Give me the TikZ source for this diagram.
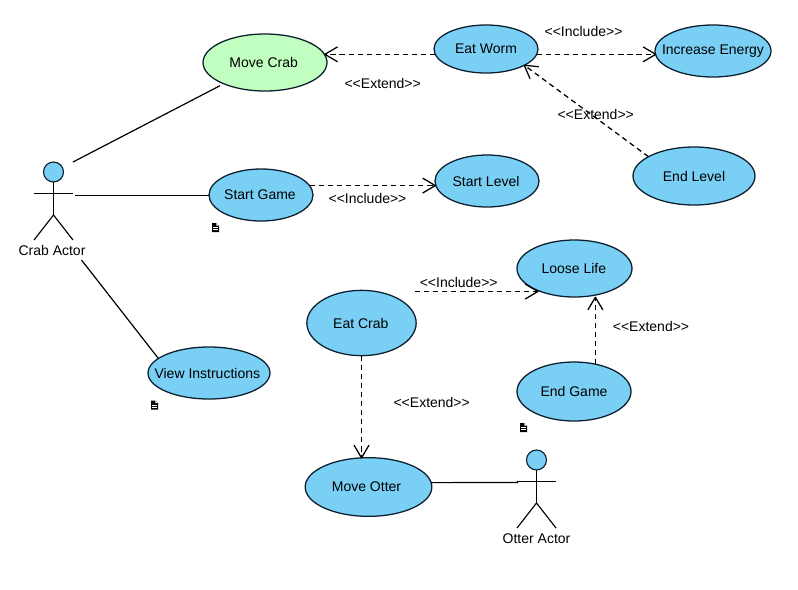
\documentclass[tikz,border=0pt]{standalone}
\usepackage{fontspec}
\setmainfont{Liberation Sans}
\usetikzlibrary{arrows.meta,calc,shapes.geometric}
\newcommand{\stereo}[1]{<\kern0pt<#1>\kern0pt>}
\newcommand{\uct}[2][0pt]{\makebox[0pt]{\hspace*{#1}#2}}
\definecolor{ucblue}{RGB}{122,207,245}
\definecolor{ucgreen}{RGB}{192,255,192}
\definecolor{ucline}{RGB}{10,30,45}
\pgfdeclarearrow{
  name=OpenVee,
  setup code={\pgfarrowssettipend{0pt}\pgfarrowssetlineend{-0.5pt}\pgfarrowssetvisualbackend{-9pt}},
  drawing code={
    \pgfsetdash{}{0pt}\pgfsetroundjoin\pgfsetbuttcap
    \pgfpathmoveto{\pgfqpoint{-9.5pt}{5.6pt}}
    \pgfpathlineto{\pgfqpoint{0pt}{0pt}}
    \pgfpathlineto{\pgfqpoint{-9.5pt}{-5.6pt}}
    \pgfusepathqstroke
  }
}
\tikzset{
  uc/.style={ellipse,draw=ucline,line width=0.95pt,fill=ucblue,inner sep=0pt,outer sep=0pt,font=\fontsize{10.5}{12}\selectfont},
  lab/.style={inner sep=0pt,font=\fontsize{10.5}{12}\selectfont},
  assoc/.style={line width=0.9pt,draw=black},
  dep/.style={line width=0.95pt,draw=black,dash pattern=on 3.9pt off 2.9pt,-OpenVee},
  stick/.style={line width=0.85pt,draw=black},
  head/.style={circle,draw=ucline,line width=0.85pt,fill=ucblue,minimum size=15pt,inner sep=0pt,outer sep=0pt},
  pics/doc/.style={code={
    \fill[black] (-3.5,-4.5) -- (0.8,-4.5) -- (3.5,-2) -- (3.5,4.5) -- (-3.5,4.5) -- cycle;
    \fill[white] (0.8,-4.5) -- (0.8,-2) -- (3.5,-2) -- cycle;
    \draw[white,line width=0.35pt] (-2.2,-0.2) -- (2.4,-0.2) (-2.2,2) -- (2.4,2);
  }}
}
\begin{document}
\begin{tikzpicture}[x=0.75pt,y=-0.75pt]
\useasboundingbox (0,0) rectangle (798,589);
\fill[white] (0,0) rectangle (798,589);

% use cases
\node[uc,fill=ucgreen,minimum width=93pt,minimum height=42.75pt] (mc) at (265,62.5) {\uct[-2pt]{Move Crab}};
\node[uc,minimum width=78pt,minimum height=36pt] (ew) at (486,49) {\uct{Eat Worm}};
\node[uc,minimum width=87pt,minimum height=39pt] (ie) at (713,51) {\uct{Increase Energy}};
\node[uc,minimum width=91.5pt,minimum height=43.5pt] (el) at (694,176) {\uct{End Level}};
\node[uc,minimum width=78pt,minimum height=39pt] (sl) at (487,181) {\uct[-1.5pt]{Start Level}};
\node[uc,minimum width=78pt,minimum height=39pt] (sg) at (261,195) {\uct[-1.5pt]{Start Game}};
\node[uc,minimum width=91.5pt,minimum height=39pt] (vi) at (209,373) {\uct[-2.5pt]{View Instructions}};
\node[uc,minimum width=82pt,minimum height=49pt] (ec) at (361.5,323) {\uct[-1pt]{Eat Crab}};
\node[uc,minimum width=95pt,minimum height=44pt] (mo) at (368.5,487) {\uct[-3pt]{Move Otter}};
\node[uc,minimum width=86.25pt,minimum height=42.75pt] (ll) at (574.5,268.5) {\uct[-1pt]{Loose Life}};
\node[uc,minimum width=85.5pt,minimum height=44.25pt] (eg) at (574,391.5) {\uct{End Game}};

% actors
\node[head] (crabhead) at (53.5,172) {};
\draw[stick] (crabhead.south) -- (53.5,215) coordinate (crabhip);
\draw[stick] (34,193.5) -- (73,193.5);
\draw[stick] (34,240) -- (crabhip) -- (73,240);
\node[lab] (crablabel) at (52,250) {Crab Actor};

\node[head] (otterhead) at (536.5,460) {};
\draw[stick] (otterhead.south) -- (536.5,503) coordinate (otterhip);
\draw[stick] (517,481.5) -- (556,481.5);
\draw[stick] (517,528) -- (otterhip) -- (556,528);
\node[lab] (otterlabel) at (536.5,538.5) {Otter Actor};

% free ends next to the actors
\coordinate (crabA) at (73,162);
\coordinate (crabB) at (75,195.5);
\coordinate (crabC) at (81.5,260);
\coordinate (otterA) at (518,482.5);
\coordinate (mcFoot) at (220,85.7);
\coordinate (ecInc) at (415,291.5);

% associations
\draw[assoc] (crabA) -- (mcFoot);
\draw[assoc] (crabB) -- (crabB -| sg.west);
\draw[assoc] (crabC) -- (vi.164);
\draw[assoc] (mo.4) -- (otterA);

% dependencies
\draw[dep] (ew.186.6) -- (ew.186.6 -| mc.7);
\draw[dep] (ew.-6.6) -- (ew.-6.6 -| ie.184);
\draw[dep] (el.157) -- (ew.-23);
\draw[dep] (sg.11.3) -- (sg.11.3 -| sl.183.3);
\draw[dep] (ecInc) -- (ecInc -| ll.211);
\draw[dep] (ec.south) -- (ec.south |- mo.103.7);
\draw[dep,shorten >=1.5pt] (eg.52) -- (eg.52 |- ll.-53.7);

% labels
\node[lab] (t1) at (382.7,83) {\stereo{Extend}};
\node[lab] (t2) at (583.5,31) {\stereo{Include}};
\node[lab] (t3) at (595.7,114) {\stereo{Extend}};
\node[lab] (t4) at (367.5,198) {\stereo{Include}};
\node[lab] (t5) at (458.7,282) {\stereo{Include}};
\node[lab] (t6) at (431.7,402) {\stereo{Extend}};
\node[lab] (t7) at (651,326) {\stereo{Extend}};

% note marks
\pic at (215.5,227.5) {doc};
\pic at (154.5,405) {doc};
\pic at (523.5,427.5) {doc};
\end{tikzpicture}
\end{document}
